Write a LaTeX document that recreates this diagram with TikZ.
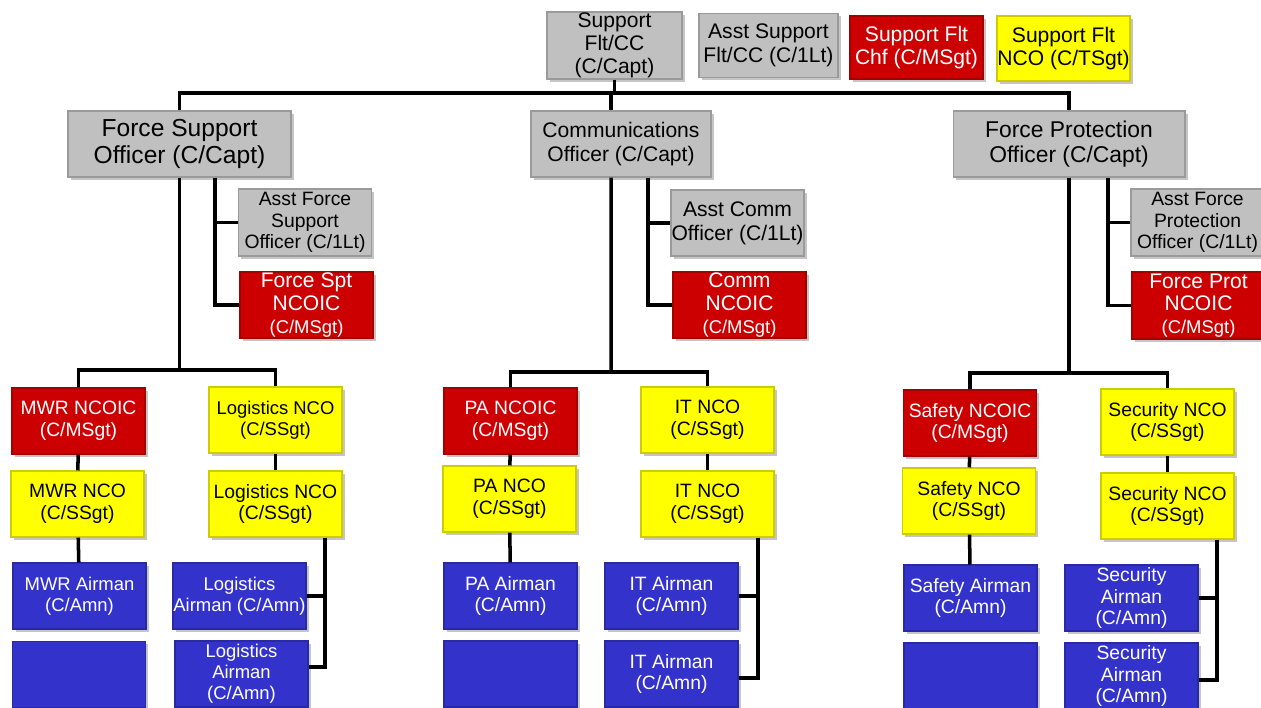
\documentclass[tikz,border=0pt]{standalone}
\usepackage{fontspec}
\setmainfont{Liberation Sans}
\usepackage{tikz}
\usetikzlibrary{shadows}

\definecolor{boxgray}{RGB}{192,192,192}
\definecolor{boxred}{RGB}{204,0,0}
\definecolor{boxyellow}{RGB}{255,255,0}
\definecolor{boxblue}{RGB}{51,51,204}

\tikzset{
  chartbox/.style={rectangle, inner sep=0pt, align=center,
    minimum width=2.66cm, minimum height=1.32cm, line width=0.6pt,
    font=\fontsize{11}{12.4}\selectfont,
    drop shadow={opacity=0.45, shadow xshift=1.6pt, shadow yshift=-1.6pt}},
  graybox/.style={chartbox, fill=boxgray, draw=boxgray!80!black, text=black},
  redbox/.style={chartbox, fill=boxred, draw=boxred!80!black, text=white},
  yellowbox/.style={chartbox, fill=boxyellow, draw=boxyellow!80!black, text=black},
  bluebox/.style={chartbox, fill=boxblue, draw=boxblue!80!black, text=white},
  link/.style={line width=2pt, black},
}
\newcommand{\smalltxt}{\fontsize{10.5}{12}\selectfont}

\begin{document}
\begin{tikzpicture}[x=0.02cm, y=-0.02cm]
\clip (0,0) rectangle (1261,707);
\fill[white] (0,0) rectangle (1261,707);

% flight staff
\node[graybox, minimum width=2.7cm, minimum height=1.34cm, font=\fontsize{12}{13}\selectfont] (flcc) at (614.5,45.5) {Support\\Flt/CC\\(C/Capt)};
\node[graybox, minimum width=2.78cm, minimum height=1.28cm, font=\fontsize{12}{13.5}\selectfont] (asstcc) at (768.5,45.5) {Asst Support\\Flt/CC (C/1Lt)};
\node[redbox, minimum height=1.26cm, font=\fontsize{12}{13.5}\selectfont] (flchf) at (916.5,47.5) {Support Flt\\Chf (C/MSgt)};
\node[yellowbox, minimum height=1.3cm, font=\fontsize{12}{13.5}\selectfont] (flnco) at (1063.5,48.5) {Support Flt\\NCO (C/TSgt)};

% officers
\node[graybox, minimum width=4.46cm, font=\fontsize{14}{15.5}\selectfont] (fso) at (179.5,144) {Force Support\\Officer (C/Capt)};
\node[graybox, minimum width=3.6cm, font=\fontsize{12}{13.5}\selectfont] (comm) at (621,144) {Communications\\Officer (C/Capt)};
\node[graybox, minimum width=4.64cm, font=\fontsize{13}{14.5}\selectfont] (fpo) at (1069,144) {Force Protection\\Officer (C/Capt)};

% assistants
\node[graybox, minimum height=1.34cm] (afso) at (305,222.5) {Asst Force\\Support\\Officer (C/1Lt)};
\node[redbox, font=\fontsize{12}{13}\selectfont] (fsncoic) at (306.5,305) {Force Spt\\NCOIC\\{\smalltxt(C/MSgt)}};
\node[graybox, font=\fontsize{12}{13.5}\selectfont] (acomm) at (737.5,223) {Asst Comm\\Officer (C/1Lt)};
\node[redbox, font=\fontsize{12}{13}\selectfont] (cncoic) at (739.5,305) {Comm\\NCOIC\\{\smalltxt(C/MSgt)}};
\node[graybox, minimum height=1.34cm] (afpo) at (1197.5,222.5) {Asst Force\\Protection\\Officer (C/1Lt)};
\node[redbox, minimum height=1.34cm, font=\fontsize{12}{13}\selectfont] (fpncoic) at (1198.5,305.5) {Force Prot\\NCOIC\\{\smalltxt(C/MSgt)}};

% force support section
\node[redbox] (mwrncoic) at (78.5,421) {MWR NCOIC\\(C/MSgt)};
\node[yellowbox, font=\fontsize{10.5}{12}\selectfont] (lognco1) at (275.5,420) {Logistics NCO\\(C/SSgt)};
\node[yellowbox] (mwrnco) at (77.5,504) {MWR NCO\\(C/SSgt)};
\node[yellowbox] (lognco2) at (275.5,504) {Logistics NCO\\(C/SSgt)};
\node[bluebox, font=\smalltxt] (mwramn) at (79.5,596) {MWR Airman\\(C/Amn)};
\node[bluebox, font=\smalltxt] (logamn1) at (239.5,596) {Logistics\\Airman (C/Amn)};
\node[bluebox] (mwrblank) at (79,674.5) {};
\node[bluebox, font=\smalltxt] (logamn2) at (241.5,674) {Logistics\\Airman\\(C/Amn)};

% communications section
\node[redbox] (pancoic) at (510.5,421) {PA NCOIC\\(C/MSgt)};
\node[yellowbox] (itnco1) at (707.5,420) {IT NCO\\(C/SSgt)};
\node[yellowbox] (panco) at (509.5,499) {PA NCO\\(C/SSgt)};
\node[yellowbox] (itnco2) at (707.5,504) {IT NCO\\(C/SSgt)};
\node[bluebox] (paamn) at (510.5,596) {PA Airman\\(C/Amn)};
\node[bluebox] (itamn1) at (671.5,596) {IT Airman\\(C/Amn)};
\node[bluebox] (pablank) at (510.5,674) {};
\node[bluebox] (itamn2) at (671.5,674) {IT Airman\\(C/Amn)};

% force protection section
\node[redbox] (sfncoic) at (970,423) {Safety NCOIC\\(C/MSgt)};
\node[yellowbox] (secnco1) at (1167.5,422) {Security NCO\\(C/SSgt)};
\node[yellowbox] (sfnco) at (969,501) {Safety NCO\\(C/SSgt)};
\node[yellowbox] (secnco2) at (1167.5,506) {Security NCO\\(C/SSgt)};
\node[bluebox] (sfamn) at (970.5,598) {Safety Airman\\(C/Amn)};
\node[bluebox] (secamn1) at (1131.5,598) {Security\\Airman\\(C/Amn)};
\node[bluebox] (sfblank) at (970.5,676) {};
\node[bluebox] (secamn2) at (1131.5,676) {Security\\Airman\\(C/Amn)};

% connectors
\coordinate (topbar) at (614.5,93);
\coordinate (fsbar) at (179.5,370);
\coordinate (cmbar) at (611,372);
\coordinate (fpbar) at (1069,373);
\draw[link] (flcc.south) -- (topbar);
\draw[link] (fso.north) |- (topbar) -| (fpo.north);
\draw[link] ([xshift=-0.2cm]comm.north) -- ([xshift=-0.2cm]comm.north |- topbar);

\draw[link] ([xshift=0.71cm]fso.south) |- (afso.west);
\draw[link] ([xshift=0.71cm]fso.south) |- (fsncoic.west);
\draw[link] ([xshift=0.54cm]comm.south) |- (acomm.west);
\draw[link] ([xshift=0.54cm]comm.south) |- (cncoic.west);
\draw[link] ([xshift=0.78cm]fpo.south) |- (afpo.west);
\draw[link] ([xshift=0.78cm]fpo.south) |- (fpncoic.west);

\draw[link] (fso.south) -- (fsbar);
\draw[link] (mwrncoic.north) |- (fsbar) -| (lognco1.north);
\draw[link] ([xshift=-0.2cm]comm.south) -- (cmbar);
\draw[link] (pancoic.north) |- (cmbar) -| (itnco1.north);
\draw[link] (fpo.south) -- (fpbar);
\draw[link] (sfncoic.north) |- (fpbar) -| (secnco1.north);

\draw[link] (mwrncoic) -- (mwrnco);
\draw[link] (mwrnco) -- (mwramn);
\draw[link] (lognco1) -- (lognco2);
\draw[link] ([xshift=0.99cm]lognco2.south) |- (logamn1.east);
\draw[link] ([xshift=0.99cm]lognco2.south) |- ([yshift=0.14cm]logamn2.east);
\draw[link] (pancoic) -- (panco);
\draw[link] (panco) -- (paamn);
\draw[link] (itnco1) -- (itnco2);
\draw[link] ([xshift=1.01cm]itnco2.south) |- (itamn1.east);
\draw[link] ([xshift=1.01cm]itnco2.south) |- ([yshift=-0.08cm]itamn2.east);
\draw[link] (sfncoic) -- (sfnco);
\draw[link] (sfnco) -- (sfamn);
\draw[link] (secnco1) -- (secnco2);
\draw[link] ([xshift=0.99cm]secnco2.south) |- (secamn1.east);
\draw[link] ([xshift=0.99cm]secnco2.south) |- ([yshift=-0.08cm]secamn2.east);
\end{tikzpicture}
\end{document}
